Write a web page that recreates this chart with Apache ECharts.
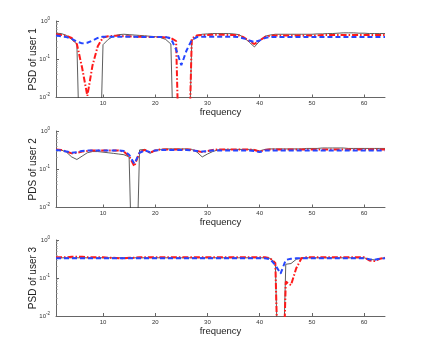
<!DOCTYPE html>
<html>
<head>
<meta charset="UTF-8">
<title>PSD per user</title>
<script src="https://cdn.jsdelivr.net/npm/echarts@6/dist/echarts.min.js"></script>
<style>
  html, body { margin: 0; padding: 0; background: #fff; }
  #main { width: 425px; height: 343px; }
</style>
</head>
<body>
<div id="main"></div>
<script>
// frequency bins
var freq = [1,2,3,4,5,6,7,8,9,10,11,12,13,14,15,16,17,18,19,20,21,22,23,24,25,26,27,28,29,30,31,32,
            33,34,35,36,37,38,39,40,41,42,43,44,45,46,47,48,49,50,51,52,53,54,55,56,57,58,59,60,61,62,63,64];

// user 1 (black = solid, red = dash-dot, blue = dashed)
var k1 = [0.48,0.47,0.42,0.33,0.25,1e-6,1e-6,1e-6,1e-6,0.24,
          0.33,0.40,0.44,0.45,0.44,0.43,0.42,0.41,0.40,0.39,
          0.37,0.33,0.25,1e-6,1e-6,1e-6,0.30,0.42,0.45,0.46,
          0.47,0.47,0.47,0.47,0.46,0.44,0.37,0.28,0.21,0.30,
          0.40,0.43,0.45,0.45,0.45,0.45,0.45,0.45,0.45,0.45,
          0.46,0.46,0.47,0.47,0.48,0.49,0.49,0.49,0.48,0.48,
          0.47,0.47,0.47,0.47];
var r1 = [0.45,0.43,0.41,0.36,0.25,0.06,0.011,0.07,0.22,0.37,
          0.40,0.41,0.41,0.40,0.40,0.39,0.39,0.39,0.38,0.38,
          0.38,0.37,0.36,0.30,1e-6,1e-6,0.35,0.42,0.43,0.43,
          0.44,0.44,0.44,0.43,0.43,0.42,0.37,0.30,0.25,0.31,
          0.38,0.41,0.42,0.42,0.42,0.42,0.42,0.42,0.42,0.42,
          0.42,0.43,0.43,0.43,0.43,0.43,0.43,0.43,0.43,0.43,
          0.43,0.43,0.43,0.43];
var b1 = [0.42,0.40,0.38,0.34,0.29,0.26,0.27,0.31,0.36,0.39,
          0.39,0.39,0.39,0.39,0.39,0.39,0.38,0.38,0.38,0.38,
          0.38,0.38,0.35,0.18,0.07,0.17,0.32,0.38,0.39,0.39,
          0.39,0.39,0.39,0.39,0.39,0.38,0.35,0.31,0.28,0.31,
          0.36,0.38,0.38,0.38,0.38,0.38,0.38,0.38,0.38,0.38,
          0.38,0.38,0.38,0.38,0.38,0.38,0.38,0.38,0.38,0.38,
          0.38,0.38,0.38,0.38];

// user 2
var k2 = [0.33,0.32,0.28,0.21,0.18,0.22,0.27,0.29,0.29,0.28,
          0.27,0.26,0.25,0.24,0.21,1e-6,0.32,0.33,0.26,0.31,
          0.33,0.34,0.34,0.34,0.34,0.34,0.33,0.28,0.21,0.25,
          0.29,0.32,0.33,0.33,0.33,0.33,0.33,0.33,0.32,0.30,
          0.33,0.34,0.34,0.34,0.34,0.34,0.34,0.34,0.35,0.35,
          0.35,0.36,0.36,0.36,0.36,0.36,0.35,0.35,0.35,0.35,
          0.35,0.35,0.35,0.35];
var r2 = [0.33,0.32,0.29,0.26,0.27,0.29,0.30,0.31,0.31,0.31,
          0.31,0.31,0.31,0.29,0.22,0.12,0.28,0.32,0.27,0.31,
          0.33,0.33,0.33,0.33,0.33,0.33,0.32,0.30,0.28,0.30,
          0.32,0.33,0.33,0.33,0.33,0.33,0.33,0.33,0.32,0.29,
          0.32,0.33,0.33,0.33,0.33,0.33,0.33,0.33,0.33,0.33,
          0.33,0.33,0.33,0.33,0.33,0.33,0.33,0.33,0.33,0.33,
          0.33,0.33,0.33,0.33];
var b2 = [0.32,0.31,0.29,0.27,0.28,0.30,0.31,0.31,0.31,0.31,
          0.31,0.31,0.31,0.30,0.24,0.14,0.27,0.31,0.28,0.31,
          0.32,0.32,0.32,0.32,0.32,0.32,0.31,0.30,0.29,0.30,
          0.31,0.31,0.31,0.31,0.31,0.31,0.31,0.31,0.30,0.28,
          0.31,0.31,0.31,0.31,0.31,0.31,0.31,0.31,0.31,0.31,
          0.31,0.31,0.31,0.31,0.31,0.31,0.31,0.31,0.31,0.31,
          0.31,0.31,0.31,0.31];

// user 3
var k3 = [0.34,0.34,0.34,0.34,0.34,0.34,0.34,0.34,0.34,0.34,
          0.34,0.34,0.34,0.34,0.34,0.34,0.34,0.34,0.34,0.34,
          0.34,0.34,0.34,0.34,0.34,0.34,0.34,0.34,0.34,0.34,
          0.34,0.34,0.34,0.34,0.34,0.34,0.34,0.34,0.34,0.34,
          0.34,0.33,0.25,1e-6,0.23,0.24,0.31,0.34,0.34,0.34,
          0.34,0.34,0.34,0.34,0.34,0.34,0.34,0.34,0.34,0.34,
          0.31,0.30,0.32,0.34];
var r3 = [0.35,0.35,0.35,0.36,0.36,0.36,0.35,0.35,0.35,0.35,
          0.34,0.34,0.33,0.33,0.34,0.34,0.35,0.35,0.35,0.35,
          0.35,0.35,0.35,0.35,0.35,0.35,0.35,0.35,0.35,0.35,
          0.35,0.35,0.35,0.35,0.35,0.35,0.35,0.35,0.35,0.35,
          0.35,0.33,0.25,1e-6,0.08,0.065,0.18,0.33,0.35,0.35,
          0.35,0.35,0.35,0.35,0.35,0.35,0.35,0.35,0.35,0.35,
          0.29,0.28,0.32,0.34];
var b3 = [0.33,0.33,0.33,0.33,0.33,0.33,0.33,0.33,0.33,0.33,
          0.33,0.33,0.33,0.33,0.33,0.33,0.33,0.33,0.33,0.33,
          0.33,0.33,0.33,0.33,0.33,0.33,0.33,0.33,0.33,0.33,
          0.33,0.33,0.33,0.33,0.33,0.33,0.33,0.33,0.33,0.33,
          0.33,0.31,0.22,0.13,0.30,0.32,0.33,0.33,0.33,0.33,
          0.33,0.33,0.33,0.33,0.33,0.33,0.33,0.33,0.33,0.33,
          0.31,0.30,0.32,0.33];

var xTicks = [10, 20, 30, 40, 50, 60];
var yNames = ['PSD of user 1', 'PDS of user 2', 'PSD of user 3'];
var xName = 'frequency';

var FONT = 'Liberation Sans, Arial, Helvetica, sans-serif';
var users = [[k1, r1, b1], [k2, r2, b2], [k3, r3, b3]];
var tops = [21, 131, 240];
var heights = [76.5, 76.5, 76];

function pairs(vals) {
    return freq.map(function (f, i) { return [f, vals[i]]; });
}

var grids = [], xAxes = [], yAxes = [], series = [];
tops.forEach(function (t, g) {
    grids.push({ left: 56, top: t, width: 329, height: heights[g] });
    xAxes.push({
        type: 'value', gridIndex: g, min: 1, max: 64,
        name: xName, nameLocation: 'middle', nameGap: 10, nameMoveOverlap: false,
        nameTextStyle: { fontFamily: FONT, fontSize: 9.5, color: '#222' },
        axisLine: { lineStyle: { color: '#666', width: 1 } },
        axisTick: { inside: true, length: 3, customValues: xTicks, lineStyle: { color: '#666' } },
        axisLabel: { customValues: xTicks, fontFamily: FONT, fontSize: 6, color: '#333', margin: 3 },
        splitLine: { show: false }
    });
    yAxes.push({
        type: 'log', logBase: 10, gridIndex: g, min: 0.01, max: 1,
        name: yNames[g], nameLocation: 'middle', nameGap: 18, nameMoveOverlap: false,
        nameTextStyle: { fontFamily: FONT, fontSize: 10, color: '#222' },
        axisLine: { show: true, lineStyle: { color: '#666', width: 1 } },
        axisTick: { show: true, inside: true, length: 3, lineStyle: { color: '#666' } },
        minorTick: { show: true, splitNumber: 9, length: 1.5, lineStyle: { color: '#888' } },
        axisLabel: {
            margin: 6,
            formatter: function (v) {
                var e = Math.round(Math.log10(v));
                return '{b|10}{s|' + e + '}';
            },
            rich: {
                b: { fontFamily: FONT, fontSize: 6, color: '#333', lineHeight: 10 },
                s: { fontFamily: FONT, fontSize: 4.5, color: '#333', lineHeight: 4, verticalAlign: 'top' }
            }
        },
        splitLine: { show: false }
    });
    var set = users[g];
    series.push({
        type: 'line', xAxisIndex: g, yAxisIndex: g, data: pairs(set[0]),
        showSymbol: false, lineStyle: { color: '#333', width: 0.8 }
    });
    series.push({
        type: 'line', xAxisIndex: g, yAxisIndex: g, data: pairs(set[1]),
        showSymbol: false, lineStyle: { color: '#ff1a1a', width: 2, type: [6, 2, 1.5, 2] }
    });
    series.push({
        type: 'line', xAxisIndex: g, yAxisIndex: g, data: pairs(set[2]),
        showSymbol: false, lineStyle: { color: '#2646ff', width: 2, type: [5, 3] }
    });
});

var myChart = echarts.init(document.getElementById('main'));
myChart.setOption({
    animation: false,
    backgroundColor: '#fff',
    grid: grids,
    xAxis: xAxes,
    yAxis: yAxes,
    series: series
});
</script>
</body>
</html>
